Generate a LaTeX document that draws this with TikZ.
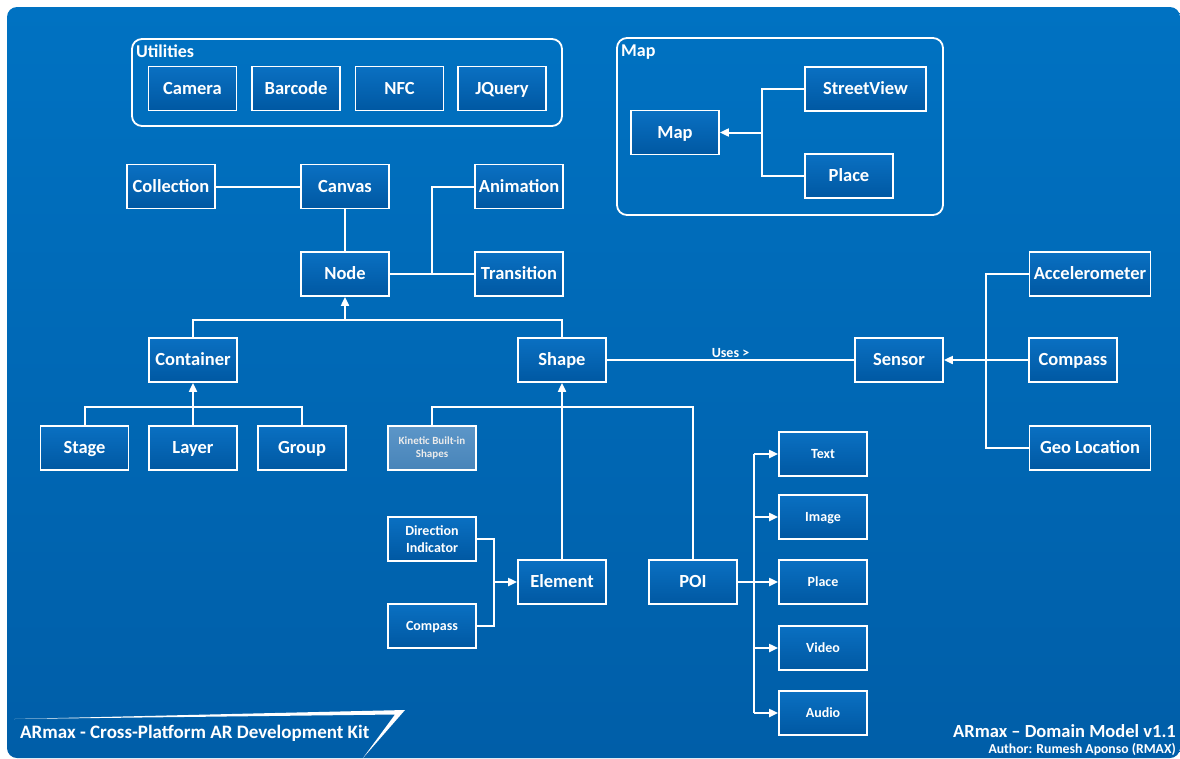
\documentclass[tikz,border=0pt]{standalone}
\usepackage{fontspec}
\setmainfont{Carlito}
\usetikzlibrary{arrows.meta}
\definecolor{bgtop}{RGB}{0,114,194}
\definecolor{bgbot}{RGB}{0,94,168}
\definecolor{boxtop}{RGB}{10,112,194}
\definecolor{boxbot}{RGB}{0,88,162}
\definecolor{kintop}{RGB}{92,150,200}
\definecolor{kinbot}{RGB}{72,132,185}
\begin{document}
\begin{tikzpicture}[x=1pt,y=-1pt,
  bbox/.style={draw=white, line width=1.8pt, minimum width=88pt, minimum height=44pt,
    inner sep=1pt, top color=boxtop, bottom color=boxbot, text=white, align=center,
    font=\bfseries\fontsize{18.5}{21}\selectfont},
  box/.style={bbox, text height=15pt, text depth=3.4pt},
  wide/.style={minimum width=121pt},
  small/.style={font=\bfseries\fontsize{14}{16.7}\selectfont, text height=11.5pt, text depth=2.7pt},
  link/.style={draw=white, line width=2pt},
  arr/.style={link, -{Triangle[length=9pt,width=8pt]}},
  grpbox/.style={draw=white, line width=1.8pt, rounded corners=10pt},
  grplabel/.style={anchor=north west, inner sep=0pt, text=white, font=\bfseries\fontsize{18}{21}\selectfont}]
\useasboundingbox (0,0) rectangle (1180,758);
\shade[top color=bgtop, bottom color=bgbot, rounded corners=10pt] (7,7) rectangle (1180,758);

% Utilities group
\draw[grpbox] (132,39) rectangle (562,126);
\node[grplabel] (utl) at (136,45) {Utilities};
\node[box] (Camera) at (192.5,88.5) {Camera};
\node[box] (Barcode) at (296,88.5) {Barcode};
\node[box] (NFC) at (399.5,88.5) {NFC};
\node[box] (JQuery) at (502,88.5) {JQuery};

% Map group
\draw[grpbox] (617,38) rectangle (943,215);
\node[grplabel] (mapl) at (621,45) {Map};
\node[box] (MapN) at (675,132.5) {Map};
\node[box, wide] (StreetView) at (865.5,89) {StreetView};
\node[box] (MPlace) at (849,176) {Place};
\coordinate (mj) at (762,132.5);
\draw[link] (StreetView.west) -| (mj) |- (MPlace.west);
\draw[arr] (mj) -- (MapN.east);

% Canvas / Node
\node[box] (Collection) at (171,186.5) {Collection};
\node[box] (Canvas) at (345,186.5) {Canvas};
\node[box] (Animation) at (519,186.5) {Animation};
\node[box] (Node) at (345,274) {Node};
\node[box] (Transition) at (519,274) {Transition};
\draw[link] (Collection.east) -- (Canvas.west);
\draw[link] (Canvas.south) -- (Node.north);
\coordinate (nj) at (432,274);
\draw[link] (Node.east) -- (Transition.west);
\draw[link] (nj) |- (Animation.west);

% Container / Shape
\node[box] (Container) at (193,360) {Container};
\node[box] (Shape) at (562,360) {Shape};
\draw[link] (Container.north) -- ++(0,-17) coordinate (busN) -| (Shape.north);
\draw[arr] (busN -| Node.south) -- (Node.south);

\node[box] (Stage) at (84.5,448) {Stage};
\node[box] (Layer) at (193,448) {Layer};
\node[box] (Group) at (302,448) {Group};
\draw[link] (Stage.north) -- ++(0,-18) -| (Group.north);
\draw[arr] (Layer.north) -- (Container.south);

% Shape children
\node[bbox, top color=kintop, bottom color=kinbot, text=white!92!black,
  font=\bfseries\fontsize{11}{12.7}\selectfont] (Kinetic) at (432,448) {Kinetic Built-in\\Shapes};
\node[box] (Element) at (562,582) {Element};
\node[box] (POI) at (693,582) {POI};
\draw[link] (Kinetic.north) -- ++(0,-18) -| (POI.north);
\draw[arr] (Element.north) -- (Shape.south);

\node[bbox, font=\bfseries\fontsize{14}{16.7}\selectfont] (DirInd) at (432,539) {Direction\\Indicator};
\node[box, small] (ECompass) at (432,626) {Compass};
\draw[link] (DirInd.east) -- ++(17,0) coordinate (dj) |- (ECompass.east);
\draw[arr] (dj |- Element.west) -- (Element.west);

\node[box, small] (PText) at (823,454) {Text};
\node[box, small] (PImage) at (823,517) {Image};
\node[box, small] (PPlace) at (823,582) {Place};
\node[box, small] (PVideo) at (823,648) {Video};
\node[box, small] (PAudio) at (823,713) {Audio};
\draw[link] (POI.east) -- ++(16,0) coordinate (pj);
\draw[link] (pj |- PText.west) -- (pj |- PAudio.west);
\foreach \t in {PText,PImage,PPlace,PVideo,PAudio}
  \draw[arr] (pj |- \t.west) -- (\t.west);

% Sensor
\node[box] (Sensor) at (899,360) {Sensor};
\node[box] (SCompass) at (1073,360) {Compass};
\node[box, wide] (Accel) at (1090,274) {Accelerometer};
\node[box, wide] (Geo) at (1090,448) {Geo Location};
\coordinate (sj) at (986,360);
\draw[link] (Accel.west) -| (sj) |- (Geo.west);
\draw[link] (SCompass.west) -- (sj);
\draw[arr] (sj) -- (Sensor.east);
\draw[link] (Shape.east) -- node[above, inner sep=1pt, text=white,
  font=\bfseries\fontsize{14}{16}\selectfont] (uses) {Uses >} (Sensor.west);

% Banners
\fill[white] (14,719) -- (405,710) -- (363,758) -- (395,714.5) -- cycle;
\node[anchor=west, inner sep=0pt, text=white, font=\bfseries\fontsize{19}{22}\selectfont]
  (kit) at (20,733) {ARmax - Cross-Platform AR Development Kit};
\node[anchor=east, inner sep=0pt, text=white, font=\bfseries\fontsize{18.5}{21}\selectfont]
  (title) at (1176,731) {ARmax – Domain Model v1.1};
\node[anchor=east, inner sep=0pt, text=white, font=\bfseries\fontsize{13.7}{15}\selectfont]
  (author) at (1176,749) {Author: Rumesh Aponso (RMAX)};
\end{tikzpicture}
\end{document}
